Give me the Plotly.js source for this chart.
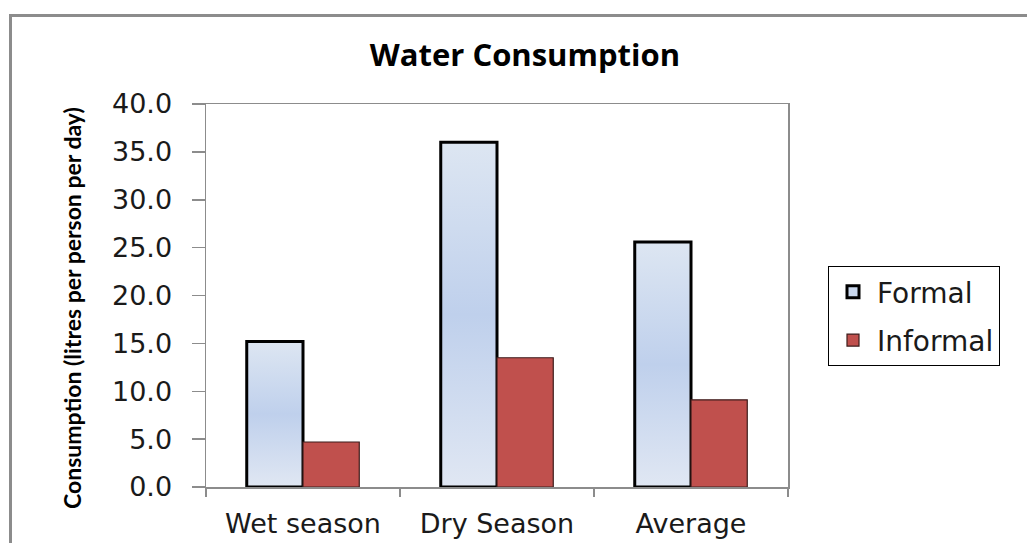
<!DOCTYPE html>
<html>
<head>
<meta charset="utf-8">
<script src="https://cdn.plot.ly/plotly-3.0.1.min.js"></script>
<style>
  html, body { margin: 0; padding: 0; background: #ffffff; }
  #frame { position: absolute; left: 9px; top: 14px; width: 1040px; height: 560px;
           border-left: 3px solid #8c8c8c; border-top: 3px solid #8c8c8c; box-sizing: border-box; pointer-events: none; }
  #chart { width: 1027px; height: 543px; }
</style>
</head>
<body>
<div id="chart"></div>
<div id="frame"></div>
<script>
const categories = ["Wet season", "Dry Season", "Average"];
const seriesNames = ["Formal", "Informal"];
const formalValues = [15.2, 36.0, 25.6];
const informalValues = [4.7, 13.5, 9.1];
const yTickValues = [0, 5, 10, 15, 20, 25, 30, 35, 40];
const yAxisTitle = "Consumption (litres per person per day)";
const chartTitle = "Water Consumption";

const tickFont = { family: "DejaVu Sans", size: 27, color: "#1a1a1a" };

const traces = [
  {
    type: "bar", name: seriesNames[0], x: categories, y: formalValues, legendgroup: "g1",
    marker: { color: "#cad8ee", line: { color: "#000000", width: 3 } },
    hoverinfo: "x+y"
  },
  {
    type: "bar", name: seriesNames[1], x: categories, y: informalValues, legendgroup: "g2",
    marker: { color: "#c0504d", line: { color: "#3d1d1c", width: 1.2 } },
    hoverinfo: "x+y"
  }
];

const layout = {
  width: 1027, height: 543,
  paper_bgcolor: "rgba(0,0,0,0)", plot_bgcolor: "#ffffff",
  margin: { l: 206, r: 239, t: 104, b: 56 },
  barmode: "group", bargap: 0.42, bargroupgap: 0,
  showlegend: true,
  title: {
    text: "<b>" + chartTitle + "</b>",
    font: { family: "Open Sans", size: 31, color: "#000000" },
    xref: "paper", x: 0.548, xanchor: "center",
    yref: "container", y: 0.899, yanchor: "middle"
  },
  xaxis: {
    type: "category",
    tickfont: tickFont, ticklabelstandoff: 12,
    showline: true, linecolor: "#8c8c8c", linewidth: 1.5, mirror: true,
    ticks: "outside", tickson: "boundaries", ticklen: 8, tickcolor: "#8c8c8c", tickwidth: 1.5,
    showgrid: false, zeroline: false, fixedrange: true
  },
  yaxis: {
    range: [0, 40], tickvals: yTickValues, tickformat: ".1f",
    tickfont: tickFont, ticklabelstandoff: 14,
    showline: true, linecolor: "#8c8c8c", linewidth: 1.5, mirror: true,
    ticks: "outside", ticklen: 13, tickcolor: "#8c8c8c", tickwidth: 1.5,
    showgrid: false, zeroline: false, fixedrange: true
  },
  annotations: [{
    text: "<b>" + yAxisTitle + "</b>",
    xref: "paper", x: (72 - 206) / 582, xanchor: "center",
    yref: "paper", y: (487 - 308) / 383, yanchor: "middle",
    textangle: -90, showarrow: false,
    font: { family: "Lato", size: 23, color: "#000000" }
  }],
  legend: {
    x: 828 / 1027, xref: "container", xanchor: "left",
    y: 1 - 266 / 543, yref: "container", yanchor: "top",
    bordercolor: "#000000", borderwidth: 1, bgcolor: "#ffffff",
    font: { family: "DejaVu Sans", size: 28, color: "#1a1a1a" },
    traceorder: "grouped", tracegroupgap: 9, itemwidth: 38
  }
};

Plotly.newPlot("chart", traces, layout, { displayModeBar: false, staticPlot: true }).then(function (gd) {
  // vertical gradient fill for Formal bars, like the original
  const svg = gd.querySelector("svg.main-svg");
  const ns = "http://www.w3.org/2000/svg";
  let defs = svg.querySelector("defs");
  if (!defs) { defs = document.createElementNS(ns, "defs"); svg.insertBefore(defs, svg.firstChild); }
  const grad = document.createElementNS(ns, "linearGradient");
  grad.setAttribute("id", "formalGrad");
  grad.setAttribute("x1", "0"); grad.setAttribute("y1", "0");
  grad.setAttribute("x2", "0"); grad.setAttribute("y2", "1");
  [["0", "#dde6f2"], ["0.5", "#bfd0ec"], ["1", "#e0e7f3"]].forEach(function (s) {
    const st = document.createElementNS(ns, "stop");
    st.setAttribute("offset", s[0]); st.setAttribute("stop-color", s[1]);
    grad.appendChild(st);
  });
  defs.appendChild(grad);
  const bars = gd.querySelectorAll(".barlayer .trace.bars");
  if (bars.length) {
    bars[0].querySelectorAll("path").forEach(function (p) { p.style.fill = "url(#formalGrad)"; });
  }
});
</script>
</body>
</html>
